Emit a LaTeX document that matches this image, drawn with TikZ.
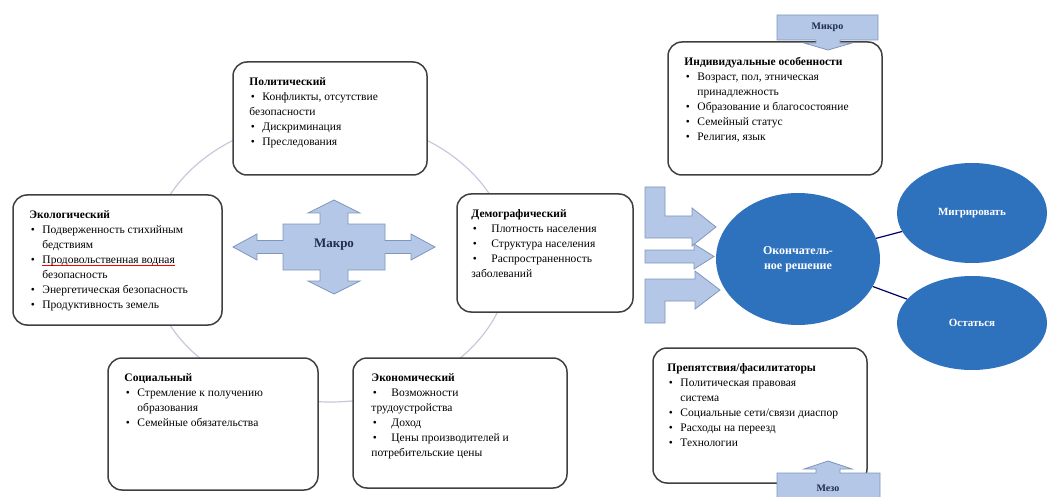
\documentclass[tikz,border=0pt]{standalone}
\usepackage{fontspec}
\setmainfont{Liberation Serif}
\usepackage{tikz}
\usetikzlibrary{shapes.geometric}
\usetikzlibrary{calc}

\definecolor{ringgray}{HTML}{C8C8DC}
\definecolor{arrowfill}{HTML}{B4C7E7}
\definecolor{arrowline}{HTML}{8096BE}
\definecolor{decblue}{HTML}{2E72BE}
\definecolor{macroink}{HTML}{1F2D4A}

\newcommand{\bull}[1][13pt]{\makebox[#1][l]{\hspace{1.5pt}\textbullet}}
\newcommand{\hang}[1][13pt]{\hspace*{#1}}
\newcommand{\spellerr}[1]{\setbox0\hbox{#1}\rlap{\color{red}\rule[-2.2pt]{\wd0}{0.7pt}}\box0}

\tikzset{
  factbox/.style={draw=black!75, line width=1.5pt, fill=white, rounded corners=14pt, inner sep=0pt},
  facttext/.style={anchor=north west, align=left, inner sep=0pt, font=\fontsize{11.5}{15}\selectfont},
  ring/.style={draw=ringgray, line width=1.2pt},
  blockarrow/.style={fill=arrowfill, draw=arrowline, line width=0.8pt},
  levellabel/.style={text=macroink, font=\bfseries\fontsize{10}{12}\selectfont},
  decision/.style={ellipse, fill=decblue, text=white, inner sep=0pt, align=center,
    font=\bfseries\fontsize{12}{15}\selectfont},
  link/.style={draw=black!60!blue, line width=1.2pt}
}

\begin{document}
\begin{tikzpicture}[x=1pt,y=-1pt]
\useasboundingbox (0,0) rectangle (1049,497);

\draw[ring] (330,260) ellipse [x radius=180, y radius=142];

\node[factbox, minimum width=194, minimum height=113] (polit) at (330,118.5) {};
\node[factbox, minimum width=209, minimum height=130] (ecol) at (117.5,260) {};
\node[factbox, minimum width=176, minimum height=118] (demog) at (545,253) {};
\node[factbox, minimum width=210, minimum height=132] (social) at (213,424) {};
\node[factbox, minimum width=214, minimum height=130] (econ) at (460,423) {};
\node[factbox, minimum width=214, minimum height=133] (indiv) at (775,108.5) {};
\node[factbox, minimum width=214, minimum height=135] (obstac) at (760,415.5) {};

\node[facttext] (politText) at ([shift={(17,16)}]polit.north west) {\textbf{Политический}\\
  \bull Конфликты, отсутствие\\
  безопасности\\
  \bull Дискриминация\\
  \bull Преследования};
\node[facttext] (ecolText) at ([shift={(17,16)}]ecol.north west) {\textbf{Экологический}\\
  \bull Подверженность стихийным\\
  \hang бедствиям\\
  \bull \spellerr{Продовольственная водная}\\
  \hang безопасность\\
  \bull Энергетическая безопасность\\
  \bull Продуктивность земель};
\node[facttext] (demogText) at ([shift={(15,16)}]demog.north west) {\textbf{Демографический}\\
  \bull[20pt]Плотность населения\\
  \bull[20pt]Структура населения\\
  \bull[20pt]Распространенность\\
  заболеваний};
\node[facttext] (socialText) at ([shift={(17,16)}]social.north west) {\textbf{Социальный}\\
  \bull Стремление к получению\\
  \hang образования\\
  \bull Семейные обязательства};
\node[facttext] (econText) at ([shift={(19,16)}]econ.north west) {\textbf{Экономический}\\
  \bull[20pt]Возможности\\
  трудоустройства\\
  \bull[20pt]Доход\\
  \bull[20pt]Цены производителей и\\
  потребительские цены};
\node[facttext] (indivText) at ([shift={(17,16)}]indiv.north west) {\textbf{Индивидуальные особенности}\\
  \bull Возраст, пол, этническая\\
  \hang принадлежность\\
  \bull Образование и благосостояние\\
  \bull Семейный статус\\
  \bull Религия, язык};
\node[facttext] (obstacText) at ([shift={(15,16)}]obstac.north west) {\textbf{Препятствия/фасилитаторы}\\
  \bull Политическая правовая\\
  \hang система\\
  \bull Социальные сети/связи диаспор\\
  \bull Расходы на переезд\\
  \bull Технологии};

\draw[blockarrow] (334,200) -- (360,213) -- (348,213) -- (348,224) -- (385,224) -- (385,240.5)
  -- (411,240.5) -- (411,234) -- (435,247) -- (411,260) -- (411,253.5) -- (385,253.5)
  -- (385,270) -- (348,270) -- (348,281) -- (360,281) -- (334,294) -- (308,281) -- (320,281)
  -- (320,270) -- (283,270) -- (283,253.5) -- (257,253.5) -- (257,260) -- (233,247)
  -- (257,234) -- (257,240.5) -- (283,240.5) -- (283,224) -- (320,224) -- (320,213)
  -- (308,213) -- cycle;
\node[levellabel, font=\bfseries\fontsize{13}{15}\selectfont] (macro) at (334,245) {Макро};

\draw[blockarrow] (777,15) -- (878,15) -- (878,40) -- (840,40) -- (840,43) -- (852,43)
  -- (828,50) -- (804,43) -- (816,43) -- (816,40) -- (777,40) -- cycle;
\node[levellabel] (micro) at (827.5,27.5) {Микро};
\draw[blockarrow] (777,498) -- (777,473) -- (816,473) -- (816,469) -- (804,469) -- (828,461)
  -- (852,469) -- (840,469) -- (840,473) -- (880,473) -- (880,498);
\node[levellabel] (meso) at (828,488) {Мезо};

\draw[blockarrow] (645,187) -- (665,187) -- (665,216) -- (692,216) -- (692,208) -- (716,227)
  -- (692,246) -- (692,238) -- (645,238) -- cycle;
\draw[blockarrow] (645,250) -- (694,250) -- (694,244) -- (714,256.5) -- (694,269) -- (694,263)
  -- (645,263) -- cycle;
\draw[blockarrow] (645,279) -- (695,279) -- (695,271) -- (720,290) -- (695,309) -- (695,301)
  -- (665,301) -- (665,323) -- (645,323) -- cycle;

\node[decision, minimum width=164, minimum height=132] (final) at (798,259) {Окончатель-\\ное решение};
\node[decision, minimum width=150, minimum height=100, font=\bfseries\fontsize{11}{13}\selectfont] (migr) at (972,213) {Мигрировать};
\node[decision, minimum width=150, minimum height=94, font=\bfseries\fontsize{11}{13}\selectfont] (stay) at (972,323) {Остаться};
\draw[link] (final) -- (migr);
\draw[link] (final) -- (stay);
\end{tikzpicture}
\end{document}
